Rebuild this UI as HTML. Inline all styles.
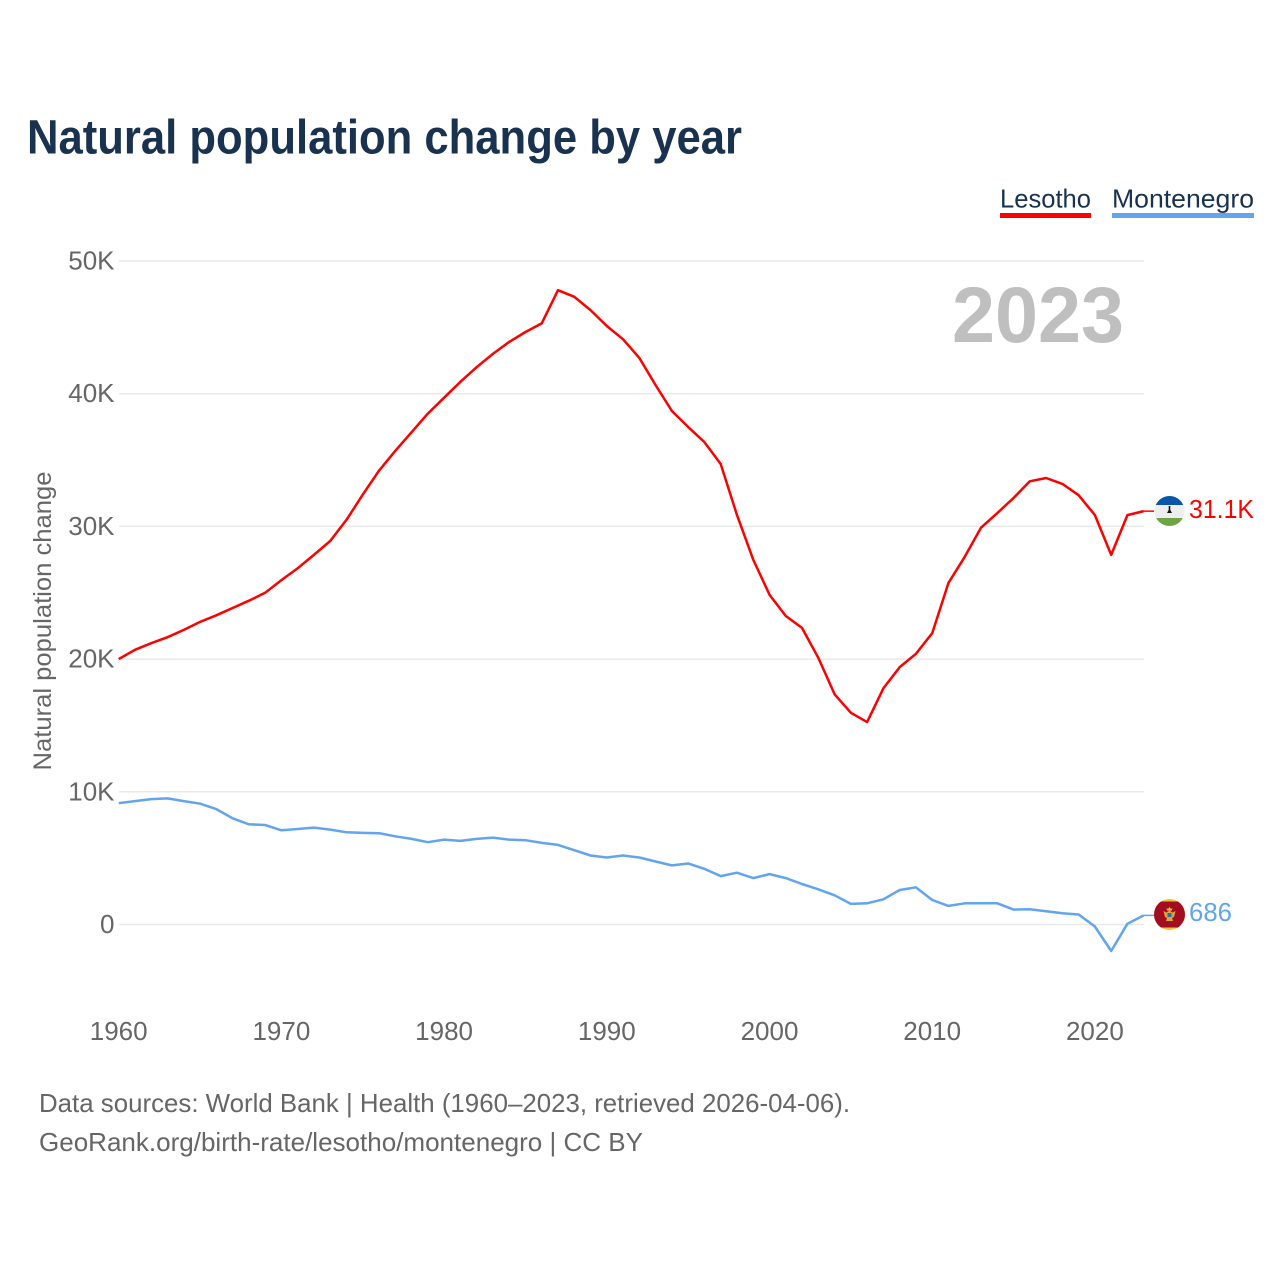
<!DOCTYPE html>
<html lang="en">
<head>
<meta charset="utf-8">
<title>Natural population change by year</title>
<style>
html,body{margin:0;padding:0;background:#fff;width:1280px;height:1280px;overflow:hidden}
svg{display:block}
text{font-family:"Liberation Sans",sans-serif}
</style>
</head>
<body>
<svg id="chart" xmlns="http://www.w3.org/2000/svg" width="1280" height="1280" viewBox="0 0 1280 1280">
<rect x="0" y="0" width="1280" height="1280" fill="#ffffff"/>
<text x="27" y="153.5" font-size="48" font-weight="700" fill="#18324f" textLength="715" lengthAdjust="spacingAndGlyphs">Natural population change by year</text>
<g id="grid"></g>
<g id="xticks"></g>
<text transform="translate(51,621) rotate(-90)" text-anchor="middle" font-size="25" fill="#666666" textLength="299" lengthAdjust="spacingAndGlyphs">Natural population change</text>
<text x="1124" y="342" text-anchor="end" font-size="79" font-weight="700" fill="#bfbfbf" textLength="172" lengthAdjust="spacingAndGlyphs">2023</text>
<g id="series"></g>
<g>
<g>
<text x="1000" y="207.5" font-size="26" fill="#18324f" textLength="91" lengthAdjust="spacingAndGlyphs">Lesotho</text>
<rect x="1000" y="213" width="91" height="5" fill="#ff0000"/>
</g>
<g>
<text x="1112" y="207.5" font-size="26" fill="#18324f" textLength="142" lengthAdjust="spacingAndGlyphs">Montenegro</text>
<rect x="1112" y="213" width="142" height="5" fill="#62a5ee"/>
</g>
</g>
<defs>
<clipPath id="flag-clip-ls"><circle cx="1169.5" cy="511" r="15"/></clipPath>
<clipPath id="flag-clip-me"><circle cx="1169.5" cy="914.5" r="15.5"/></clipPath>
</defs>
<g clip-path="url(#flag-clip-ls)">
<rect x="1154" y="496" width="31" height="31" fill="#eeeeee"/>
<rect x="1154" y="496" width="31" height="9" fill="#0a56a8"/>
<rect x="1154" y="518" width="31" height="9" fill="#6da544"/>
<path d="M1168.7 506h1.6v4l1.7 3h-5l1.7-3z" fill="#111111"/>
</g>
<g clip-path="url(#flag-clip-me)">
<rect x="1154" y="899" width="31" height="31" fill="#f2c23a"/>
<rect x="1154" y="901.5" width="31" height="26" fill="#a30d22"/>
<path d="M1163.5 911l3 1.5 3-2 3 2 3-1.5-1.5 6-2 1 1 3h-7l1-3-2-1z" fill="#d8a93a"/>
<rect x="1167.5" y="913" width="4" height="4" fill="#2a6ca8"/>
<path d="M1166.5 908l1.5 1 1.5-2 1.5 2 1.5-1-.7 2.6h-4.6z" fill="#e8b83f"/>
</g>
<text x="1189" y="518" font-size="26" fill="#ff0000" textLength="65" lengthAdjust="spacingAndGlyphs">31.1K</text>
<text x="1189" y="921" font-size="26" fill="#62a5ee" textLength="43" lengthAdjust="spacingAndGlyphs">686</text>
<text x="39" y="1112" font-size="26" fill="#666666" textLength="811" lengthAdjust="spacingAndGlyphs">Data sources: World Bank | Health (1960–2023, retrieved 2026-04-06).</text>
<text x="39" y="1151" font-size="26" fill="#666666" textLength="604" lengthAdjust="spacingAndGlyphs">GeoRank.org/birth-rate/lesotho/montenegro | CC BY</text>
</svg>
<script>
const startYear = 1960;
const endYear = 2023;
const yTicks = [0, 10, 20, 30, 40, 50];
const yTickLabels = ['0', '10K', '20K', '30K', '40K', '50K'];
const xTicks = [1960, 1970, 1980, 1990, 2000, 2010, 2020];
const lesotho = [20.0,20.7,21.2,21.65,22.2,22.8,23.3,23.85,24.4,25.0,25.95,26.85,27.85,28.9,30.5,32.4,34.2,35.7,37.1,38.5,39.7,40.9,42.0,43.0,43.9,44.65,45.3,47.8,47.3,46.3,45.1,44.1,42.7,40.65,38.7,37.5,36.35,34.7,30.85,27.5,24.85,23.25,22.35,20.1,17.35,15.95,15.25,17.8,19.4,20.4,21.95,25.75,27.7,29.9,31.0,32.15,33.4,33.65,33.2,32.35,30.85,27.85,30.85,31.15];
const montenegro = [9.15,9.3,9.45,9.5,9.3,9.1,8.7,8.0,7.55,7.5,7.1,7.2,7.3,7.15,6.95,6.9,6.88,6.65,6.45,6.2,6.4,6.3,6.45,6.55,6.4,6.35,6.15,6.0,5.6,5.2,5.05,5.2,5.05,4.75,4.45,4.6,4.2,3.65,3.9,3.5,3.8,3.5,3.05,2.65,2.2,1.55,1.6,1.9,2.6,2.8,1.85,1.4,1.6,1.6,1.6,1.12,1.15,1.0,0.85,0.75,-0.15,-2.0,0.05,0.686];

const NS = 'http://www.w3.org/2000/svg';
const xScale = function (year) { return 118.7 + (year - 1960) * 16.27; };
const yScale = function (v) { return 924.5 - v * 13.27; };
const gridGroup = document.getElementById('grid');
const xGroup = document.getElementById('xticks');
const seriesGroup = document.getElementById('series');

yTicks.forEach(function (t, i) {
  const line = document.createElementNS(NS, 'line');
  
  
  line.setAttribute('x1', 119);
  line.setAttribute('x2', 1144);
  line.setAttribute('y1', yScale(t));
  line.setAttribute('y2', yScale(t));
  line.setAttribute('stroke', '#e9e9e9');
  line.setAttribute('stroke-width', '1.5');
  gridGroup.appendChild(line);
  const label = document.createElementNS(NS, 'text');
  
  
  label.setAttribute('x', 114.5);
  label.setAttribute('y', yScale(t) + 8.5);
  label.setAttribute('text-anchor', 'end');
  label.setAttribute('font-size', '26');
  label.setAttribute('fill', '#666666');
  label.textContent = yTickLabels[i];
  gridGroup.appendChild(label);
});

xTicks.forEach(function (t) {
  const label = document.createElementNS(NS, 'text');
  
  
  label.setAttribute('x', xScale(t));
  label.setAttribute('y', 1040);
  label.setAttribute('text-anchor', 'middle');
  label.setAttribute('font-size', '26');
  label.setAttribute('fill', '#666666');
  label.textContent = String(t);
  xGroup.appendChild(label);
});

function drawSeries(values, color, name) {
  const pts = values.map(function (v, i) {
    return xScale(startYear + i).toFixed(1) + ',' + yScale(v).toFixed(1);
  }).join(' ');
  const line = document.createElementNS(NS, 'polyline');
  
  
  line.setAttribute('points', pts);
  line.setAttribute('fill', 'none');
  line.setAttribute('stroke', color);
  line.setAttribute('stroke-width', '2.5');
  line.setAttribute('stroke-linejoin', 'round');
  seriesGroup.appendChild(line);
  const lastY = yScale(values[values.length - 1]);
  const connector = document.createElementNS(NS, 'line');
  
  
  connector.setAttribute('x1', xScale(endYear));
  connector.setAttribute('x2', 1154);
  connector.setAttribute('y1', lastY);
  connector.setAttribute('y2', lastY);
  connector.setAttribute('stroke', color);
  connector.setAttribute('stroke-width', '1.5');
  seriesGroup.appendChild(connector);
}
drawSeries(lesotho, '#ff0000', 'lesotho-line');
drawSeries(montenegro, '#62a5ee', 'montenegro-line');
</script>
</body>
</html>
